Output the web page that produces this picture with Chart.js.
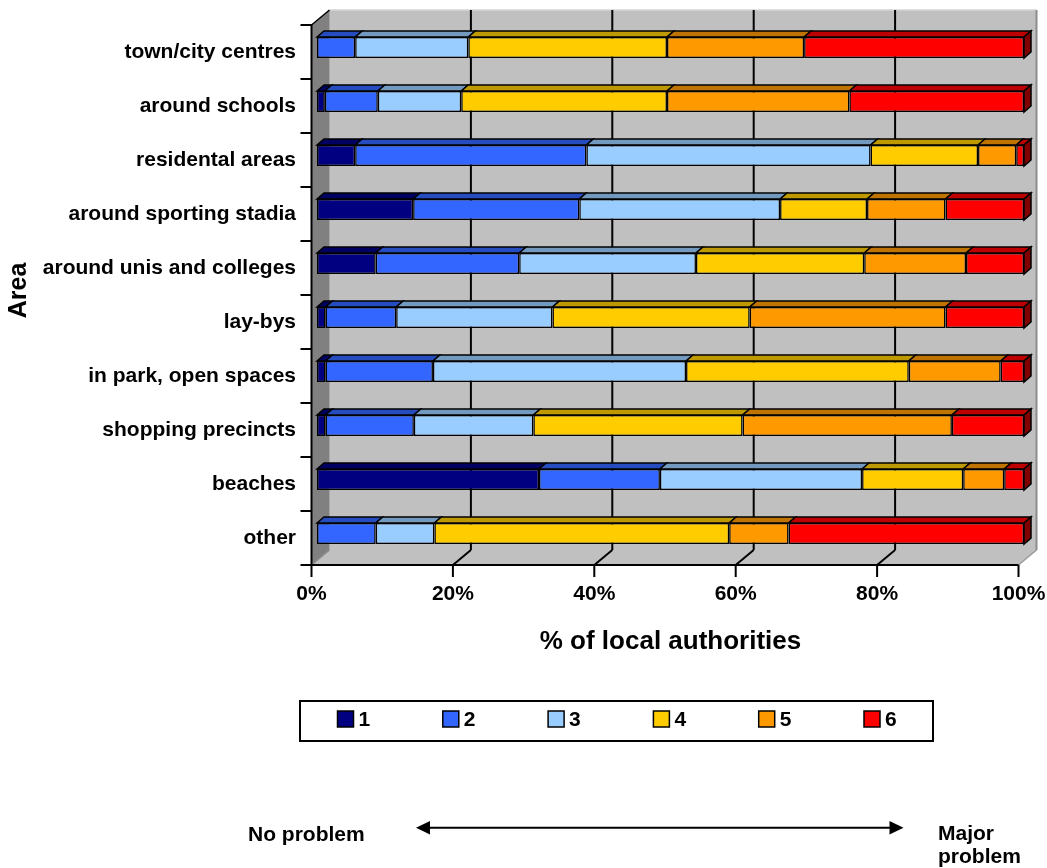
<!DOCTYPE html>
<html lang="en">
<head>
    <meta charset="utf-8">
    <title>Problem areas by rating</title>
    <style>
        html, body { margin: 0; padding: 0; background: #ffffff; }
        canvas { display: block; }
    </style>
</head>
<body>
    <canvas id="chart" width="1047" height="868"></canvas>
    <script src="https://cdn.jsdelivr.net/npm/chart.js@4/dist/chart.umd.min.js"></script>

    <script>
    // areas, top to bottom
    var areas = ['town/city centres', 'around schools', 'residental areas', 'around sporting stadia',
                 'around unis and colleges', 'lay-bys', 'in park, open spaces', 'shopping precincts',
                 'beaches', 'other'];

    // % of local authorities giving each rating (1 = no problem ... 6 = major problem)
    var rating1 = [0, 1.1, 5.4, 13.6, 8.3, 1.2, 1.2, 1.2, 31.4, 0];
    var rating2 = [5.4, 7.5, 32.7, 23.5, 20.3, 10.0, 15.2, 12.5, 17.1, 8.3];
    var rating3 = [16.0, 11.8, 40.2, 28.4, 25.0, 22.1, 35.8, 16.9, 28.6, 8.3];
    var rating4 = [28.1, 29.1, 15.2, 12.3, 23.8, 27.9, 31.5, 29.6, 14.3, 41.7];
    var rating5 = [19.4, 25.8, 5.4, 11.1, 14.4, 27.7, 13.0, 29.6, 5.8, 8.4];
    var rating6 = [31.1, 24.7, 1.1, 11.1, 8.2, 11.1, 3.3, 10.2, 2.8, 33.3];

    var ratingLabels = ['1', '2', '3', '4', '5', '6'];
    var pctTicks = [0, 20, 40, 60, 80, 100];

    var colours = ['#000080', '#3366ff', '#99ccff', '#ffcc00', '#ff9900', '#ff0000'];
    var FONT = '"Liberation Sans", Arial, sans-serif';

    // fake 3d: offsets of the front edge, the back wall and the bar depth from the bar faces
    var frontOff = { x: -5.5, y: 4.5 };
    var backOff = { x: 12.5, y: -10.5 };
    var barDepth = { x: 7, y: -6 };

    function shade(hex, f) {
        var n = parseInt(hex.slice(1), 16);
        var r = Math.round(((n >> 16) & 255) * f), g = Math.round(((n >> 8) & 255) * f), b = Math.round((n & 255) * f);
        return 'rgb(' + r + ',' + g + ',' + b + ')';
    }

    function poly(ctx, pts, fill, stroke, lw) {
        ctx.beginPath();
        ctx.moveTo(pts[0][0], pts[0][1]);
        for (var i = 1; i < pts.length; i++) ctx.lineTo(pts[i][0], pts[i][1]);
        ctx.closePath();
        if (fill) { ctx.fillStyle = fill; ctx.fill(); }
        if (stroke) { ctx.strokeStyle = stroke; ctx.lineWidth = lw || 1; ctx.stroke(); }
    }

    function line(ctx, x1, y1, x2, y2, colour, lw) {
        ctx.beginPath();
        ctx.moveTo(x1, y1);
        ctx.lineTo(x2, y2);
        ctx.strokeStyle = colour;
        ctx.lineWidth = lw;
        ctx.stroke();
    }

    var box3d = {
        id: 'box3d',
        beforeDatasetsDraw: function(chart) {
            var ctx = chart.ctx, a = chart.chartArea, xs = chart.scales.x;
            var L = a.left, R = a.right, T = a.top, B = a.bottom;
            var f = frontOff, k = backOff;
            ctx.save();
            // back wall
            ctx.fillStyle = '#c0c0c0';
            ctx.fillRect(L + k.x, T + k.y, R - L, B - T);
            line(ctx, L + k.x, T + k.y, R + k.x, T + k.y, '#d4d4d4', 1.5);
            line(ctx, R + k.x, T + k.y, R + k.x, B + k.y, '#8c8c8c', 2);
            // side wall
            poly(ctx, [[L + f.x, T + f.y], [L + k.x, T + k.y], [L + k.x, B + k.y], [L + f.x, B + f.y]], '#808080');
            line(ctx, L + k.x, T + k.y, L + k.x, B + k.y, '#a6a6a6', 1);
            // floor
            poly(ctx, [[L + f.x, B + f.y], [L + k.x, B + k.y], [R + k.x, B + k.y], [R + f.x, B + f.y]], '#c0c0c0');
            line(ctx, L + f.x, B + f.y, L + k.x, B + k.y, '#8c8c8c', 1.5);
            line(ctx, R + f.x, B + f.y, R + k.x, B + k.y, '#9a9a9a', 1.5);
            // gridlines on the wall and across the floor
            pctTicks.forEach(function(v) {
                var px = xs.getPixelForValue(v);
                if (v > 0 && v < 100) {
                    line(ctx, px + k.x, T + k.y, px + k.x, B + k.y, '#000', 2);
                    line(ctx, px + f.x, B + f.y, px + k.x, B + k.y, '#000', 2);
                }
                // tick marks under the floor edge
                line(ctx, px + f.x, B + f.y, px + f.x, B + f.y + 12, '#000', 2);
            });
            // axis lines
            line(ctx, L + f.x, T + f.y, L + k.x, T + k.y, '#000', 1.5);
            line(ctx, L + f.x, T + f.y - 1, L + f.x, B + f.y + 1, '#000', 2);
            line(ctx, L + f.x - 1, B + f.y, R + f.x, B + f.y, '#000', 2);
            // category ticks on the side wall edge
            var n = areas.length;
            for (var i = 0; i <= n; i++) {
                var ty = T + (B - T) * i / n + f.y;
                line(ctx, L + f.x - 11, ty, L + f.x, ty, '#000', 2);
            }
            ctx.restore();
        },
        afterDatasetsDraw: function(chart) {
            var ctx = chart.ctx, d = barDepth;
            var last = [];
            ctx.save();
            ctx.lineJoin = 'miter';
            chart.data.datasets.forEach(function(ds, di) {
                var meta = chart.getDatasetMeta(di);
                meta.data.forEach(function(el, i) {
                    var x0 = Math.min(el.base, el.x), x1 = Math.max(el.base, el.x);
                    if (x1 - x0 < 0.5) return;
                    var top = el.y - el.height / 2;
                    poly(ctx, [[x0, top], [x0 + d.x, top + d.y], [x1 + d.x, top + d.y], [x1, top]],
                        shade(ds.backgroundColor, 0.75), '#000', 1.5);
                    last[i] = { x1: x1, top: top, bottom: el.y + el.height / 2, c: ds.backgroundColor };
                });
            });
            // end face of the last segment in each row
            last.forEach(function(s) {
                poly(ctx, [[s.x1, s.top], [s.x1 + d.x, s.top + d.y], [s.x1 + d.x, s.bottom + d.y], [s.x1, s.bottom]],
                    shade(s.c, 0.5), '#000', 1.5);
            });
            ctx.restore();
        },
        afterDraw: function(chart) {
            var ctx = chart.ctx;
            ctx.save();
            // legend
            ctx.fillStyle = '#fff';
            ctx.fillRect(300, 701, 633, 40);
            ctx.strokeStyle = '#000';
            ctx.lineWidth = 2;
            ctx.strokeRect(300, 701, 633, 40);
            ctx.font = 'bold 21px ' + FONT;
            ctx.textBaseline = 'middle';
            ctx.textAlign = 'left';
            chart.data.datasets.forEach(function(ds, i) {
                var lx = 337.5 + i * 105.3;
                ctx.fillStyle = ds.backgroundColor;
                ctx.fillRect(lx, 711, 16, 16);
                ctx.lineWidth = 1.5;
                ctx.strokeRect(lx, 711, 16, 16);
                ctx.fillStyle = '#000';
                ctx.fillText(ds.label, lx + 21, 720);
            });
            // rating scale arrow
            line(ctx, 428, 827.7, 891, 827.7, '#000', 2);
            poly(ctx, [[416, 827.7], [430, 821], [430, 834.4]], '#000');
            poly(ctx, [[903.5, 827.7], [889.5, 821], [889.5, 834.4]], '#000');
            ctx.fillStyle = '#000';
            ctx.textBaseline = 'alphabetic';
            ctx.fillText('No problem', 248, 840.5);
            ctx.fillText('Major', 938, 840);
            ctx.fillText('problem', 938, 863);
            ctx.restore();
        }
    };

    var ratings = [rating1, rating2, rating3, rating4, rating5, rating6];
    var datasets = ratings.map(function(vals, i) {
        return {
            label: ratingLabels[i],
            data: vals,
            backgroundColor: colours[i],
            borderColor: '#000',
            borderWidth: 1.5,
            borderSkipped: false,
            barPercentage: 0.39,
            categoryPercentage: 1
        };
    });

    var ctx = document.getElementById('chart');
    var barChart = new Chart(ctx, {
        type: 'bar',
        data: { labels: areas, datasets: datasets },
        plugins: [box3d],
        options: {
            indexAxis: 'y',
            responsive: false,
            devicePixelRatio: 1,
            animation: false,
            layout: { padding: { left: 0, right: 23, top: 20.5, bottom: 207.5 } },
            plugins: {
                legend: { display: false },
                tooltip: { enabled: false }
            },
            scales: {
                x: {
                    stacked: true,
                    min: 0,
                    max: 100,
                    grid: { display: false, drawTicks: false },
                    border: { display: false },
                    afterBuildTicks: function(scale) {
                        scale.ticks = pctTicks.map(function(v) { return { value: v }; });
                    },
                    afterFit: function(scale) {
                        scale.height = 100;
                        scale.paddingLeft = 0;
                        scale.paddingRight = 0;
                    },
                    ticks: {
                        padding: 21,
                        labelOffset: -5.5,
                        maxRotation: 0,
                        autoSkip: false,
                        color: '#000',
                        font: { family: FONT, size: 21, weight: 'bold' },
                        callback: function(v) { return v + '%'; }
                    },
                    title: {
                        display: true,
                        text: '% of local authorities',
                        color: '#000',
                        font: { family: FONT, size: 26, weight: 'bold' },
                        padding: { top: 0, bottom: 3 }
                    }
                },
                y: {
                    stacked: true,
                    grid: { display: false, drawTicks: false },
                    border: { display: false },
                    afterFit: function(scale) {
                        scale.width = 317;
                        scale.paddingTop = 0;
                        scale.paddingBottom = 0;
                    },
                    ticks: {
                        padding: 21,
                        labelOffset: 4.5,
                        autoSkip: false,
                        color: '#000',
                        font: { family: FONT, size: 21, weight: 'bold' }
                    },
                    title: {
                        display: true,
                        text: 'Area',
                        color: '#000',
                        font: { family: FONT, size: 25, weight: 'bold' },
                        padding: { top: 4, bottom: 0 }
                    }
                }
            }
        }
    });
    </script>
</body>
</html>
